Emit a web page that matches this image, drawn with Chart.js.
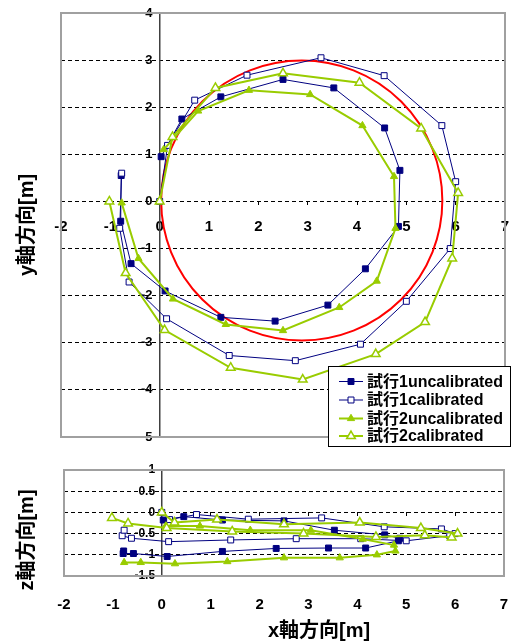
<!DOCTYPE html>
<html><head><meta charset="utf-8">
<script src="https://cdn.jsdelivr.net/npm/chart.js@4.4.1/dist/chart.umd.min.js"></script>
<style>
html,body{margin:0;padding:0;background:#fff;}
#wrap{position:relative;width:512px;height:643px;overflow:hidden;}
#c1{position:absolute;left:0;top:0;}
#c2{position:absolute;left:0;top:450px;}
</style></head><body>
<div id="wrap"><canvas id="c1" width="512" height="450"></canvas><canvas id="c2" width="512" height="193"></canvas></div>
<script>
// ---- data ----
const seriesNames = ['試行1uncalibrated', '試行1calibrated', '試行2uncalibrated', '試行2calibrated'];
const xTicks = [-2, -1, 0, 1, 2, 3, 4, 5, 6, 7];
const yTicks = [-5, -4, -3, -2, -1, 0, 1, 2, 3, 4];
const zTicks = [-1.5, -1, -0.5, 0, 0.5, 1];

const t1uX = [0.03, 0.45, 1.24, 2.50, 3.53, 4.56, 4.87, 4.84, 4.17, 3.41, 2.34, 1.24, 0.11, -0.58, -0.79, -0.78];
const t1uY = [0.95, 1.75, 2.22, 2.59, 2.41, 1.56, 0.66, -0.53, -1.43, -2.20, -2.54, -2.46, -1.90, -1.32, -0.42, 0.55];
const t1uZ = [-0.18, -0.10, -0.18, -0.20, -0.42, -0.53, -0.61, -0.67, -0.84, -0.84, -0.85, -0.92, -1.04, -0.97, -0.97, -0.91];

const t1cX = [0, 0.16, 0.71, 1.77, 3.27, 4.55, 5.72, 6.00, 5.89, 5.00, 4.07, 2.75, 1.41, 0.14, -0.62, -0.81, -0.77];
const t1cY = [0, 1.19, 2.15, 2.68, 3.05, 2.67, 1.61, 0.42, -1.00, -2.12, -3.03, -3.38, -3.27, -2.49, -1.71, -0.57, 0.60];
const t1cZ = [0, -0.17, -0.05, -0.16, -0.13, -0.34, -0.39, -0.50, -0.55, -0.67, -0.62, -0.62, -0.65, -0.69, -0.61, -0.55, -0.42];

const t2uX = [0.08, 0.78, 1.81, 3.05, 4.11, 4.75, 4.78, 4.40, 3.64, 2.50, 1.34, 0.27, -0.43, -0.77];
const t2uY = [1.10, 1.92, 2.36, 2.27, 1.61, 0.53, -0.57, -1.69, -2.25, -2.74, -2.61, -2.07, -1.21, -0.03];
const t2uZ = [-0.32, -0.32, -0.42, -0.42, -0.63, -0.77, -0.91, -1.00, -1.07, -1.07, -1.16, -1.21, -1.18, -1.18];

const t2cX = [0, 0.26, 1.13, 2.50, 4.05, 5.30, 6.05, 5.93, 5.38, 4.38, 2.90, 1.44, 0.10, -0.69, -1.02];
const t2cY = [0, 1.37, 2.41, 2.72, 2.52, 1.55, 0.18, -1.21, -2.56, -3.24, -3.78, -3.53, -2.73, -1.52, 0];
const t2cZ = [0, -0.24, -0.17, -0.28, -0.24, -0.37, -0.50, -0.59, -0.54, -0.58, -0.50, -0.45, -0.37, -0.26, -0.13];

// reference circle (ellipse as drawn): centre x, centre y, radius x, radius y
const refEllipse = [2.88, 0.02, 2.85, 2.97];

// ---- styling ----
const NAVY = '#000080', GREEN = '#99CC00', RED = '#FF0000';
const FONT = '"Liberation Sans", Arial, "Noto Sans CJK JP", sans-serif';
const TITLE_FONT = 'bold 20px "Liberation Sans", Arial, "Noto Sans CJK JP", sans-serif';

function pts(xs, vs) { return xs.map((x, i) => ({x: x, y: vs[i]})); }

const styles = [
  {color: NAVY, width: 1, pointStyle: 'rect', radius: 4.2, fill: NAVY, pbw: 1, order: 4},
  {color: NAVY, width: 1, pointStyle: 'rect', radius: 4.2, fill: '#FFFFFF', pbw: 1, order: 3},
  {color: GREEN, width: 2, pointStyle: 'triangle', radius: 4.2, fill: GREEN, pbw: 1, order: 2},
  {color: GREEN, width: 2, pointStyle: 'triangle', radius: 5, fill: '#FFFFFF', pbw: 1.5, order: 1}
];

function makeDatasets(vals) {
  const xs = [t1uX, t1cX, t2uX, t2cX];
  return vals.map((v, i) => ({
    label: seriesNames[i],
    data: pts(xs[i], v),
    showLine: true,
    tension: 0,
    borderColor: styles[i].color,
    backgroundColor: styles[i].fill,
    borderWidth: styles[i].width,
    pointStyle: styles[i].pointStyle,
    pointRadius: styles[i].radius,
    pointBackgroundColor: styles[i].fill,
    pointBorderColor: styles[i].color,
    pointBorderWidth: styles[i].pbw,
    order: styles[i].order
  }));
}

function drawMarker(ctx, style, x, y) {
  ctx.save();
  ctx.fillStyle = style.fill;
  ctx.strokeStyle = style.color;
  ctx.lineWidth = style.pbw;
  ctx.beginPath();
  if (style.pointStyle === 'rect') {
    const s = Math.SQRT1_2 * style.radius;
    ctx.rect(x - s, y - s, 2 * s, 2 * s);
  } else {
    const r = style.radius;
    ctx.moveTo(x, y - r);
    ctx.lineTo(x + r * Math.sin(2 * Math.PI / 3), y + r * 0.5);
    ctx.lineTo(x - r * Math.sin(2 * Math.PI / 3), y + r * 0.5);
    ctx.closePath();
  }
  ctx.fill();
  ctx.stroke();
  ctx.restore();
}

const framePlugin = {
  id: 'frame',
  beforeDatasetsDraw(chart) {
    const a = chart.chartArea, ctx = chart.ctx;
    ctx.save();
    ctx.strokeStyle = '#A0A0A0';
    ctx.lineWidth = 2;
    ctx.strokeRect(a.left, a.top, a.right - a.left, a.bottom - a.top);
    ctx.restore();
  }
};

const ellipsePlugin = {
  id: 'refEllipse',
  beforeDatasetsDraw(chart) {
    const xs = chart.scales.x, ys = chart.scales.y, ctx = chart.ctx, a = chart.chartArea;
    const cx = xs.getPixelForValue(refEllipse[0]);
    const cy = ys.getPixelForValue(refEllipse[1]);
    const rx = Math.abs(xs.getPixelForValue(refEllipse[0] + refEllipse[2]) - cx);
    const ry = Math.abs(ys.getPixelForValue(refEllipse[1] + refEllipse[3]) - cy);
    ctx.save();
    ctx.beginPath(); ctx.rect(a.left, a.top, a.right - a.left, a.bottom - a.top); ctx.clip();
    ctx.strokeStyle = RED; ctx.lineWidth = 2;
    ctx.beginPath(); ctx.ellipse(cx, cy, rx, ry, 0, 0, 2 * Math.PI); ctx.stroke();
    ctx.restore();
  }
};

function titlePlugin(items) {
  return {
    id: 'titles',
    afterDraw(chart) {
      const ctx = chart.ctx;
      items.forEach(t => {
        ctx.save();
        ctx.font = TITLE_FONT;
        ctx.fillStyle = '#000';
        ctx.textAlign = 'center';
        ctx.textBaseline = 'middle';
        ctx.translate(t.x, t.y);
        ctx.rotate(t.rot || 0);
        ctx.fillText(t.text, 0, 0);
        ctx.restore();
      });
    }
  };
}

const legendPlugin = {
  id: 'customLegend',
  afterDraw(chart) {
    const ctx = chart.ctx;
    const box = {x: 328.5, y: 366.5, w: 182, h: 80};
    ctx.save();
    ctx.fillStyle = '#FFFFFF';
    ctx.fillRect(box.x, box.y, box.w, box.h);
    ctx.strokeStyle = '#000';
    ctx.lineWidth = 1;
    ctx.strokeRect(box.x, box.y, box.w, box.h);
    const rowY = [381.5, 400, 418.5, 436];
    seriesNames.forEach((name, i) => {
      const st = styles[i];
      const y = rowY[i];
      ctx.strokeStyle = st.color;
      ctx.lineWidth = st.width;
      ctx.beginPath(); ctx.moveTo(339, y); ctx.lineTo(363, y); ctx.stroke();
      drawMarker(ctx, st, 351, y);
      ctx.fillStyle = '#000';
      ctx.font = 'bold 16px ' + FONT;
      ctx.textAlign = 'left';
      ctx.textBaseline = 'middle';
      ctx.fillText(name, 367, y + 1);
    });
    ctx.restore();
  }
};

const lab = v => String(v) + '  ';
const flat = s => {
  if (s.isHorizontal()) { s.height = 0; } else { s.width = 0; }
  s.paddingLeft = 0; s.paddingRight = 0; s.paddingTop = 0; s.paddingBottom = 0;
};

Chart.defaults.font.family = FONT;
Chart.defaults.color = '#000';

new Chart(document.getElementById('c1'), {
  type: 'scatter',
  data: {datasets: makeDatasets([t1uY, t1cY, t2uY, t2cY])},
  options: {
    responsive: false, animation: false, events: [], devicePixelRatio: 1,
    layout: {padding: {left: 61, right: 7, top: 13, bottom: 13}},
    plugins: {legend: {display: false}, tooltip: {enabled: false}},
    scales: {
      x: {
        type: 'linear', min: -2, max: 7, position: {y: 0}, afterFit: flat,
        afterBuildTicks: s => { s.ticks = xTicks.map(v => ({value: v})); },
        ticks: {font: {size: 15, weight: 'bold'}, padding: 12, maxRotation: 0, autoSkip: false, callback: v => String(v)},
        grid: {display: true, drawOnChartArea: false, drawTicks: true, tickLength: 4, color: '#000', lineWidth: 1},
        border: {display: false}
      },
      y: {
        type: 'linear', min: -5, max: 4, position: {x: 0}, afterFit: flat,
        afterBuildTicks: s => { s.ticks = yTicks.map(v => ({value: v})); },
        ticks: {font: {size: 13, weight: 'bold'}, padding: 6, autoSkip: false, callback: lab},
        grid: {drawTicks: false, color: '#000', lineWidth: 1},
        border: {display: true, color: '#404040', width: 1.5, dash: [4, 3]}
      }
    }
  },
  plugins: [framePlugin, ellipsePlugin, legendPlugin, titlePlugin([{text: 'y軸方向[m]', x: 27, y: 225, rot: -Math.PI / 2}])]
});

new Chart(document.getElementById('c2'), {
  type: 'scatter',
  data: {datasets: makeDatasets([t1uZ, t1cZ, t2uZ, t2cZ])},
  options: {
    responsive: false, animation: false, events: [], devicePixelRatio: 1,
    layout: {padding: {left: 64, right: 8, top: 20, bottom: 67}},
    plugins: {legend: {display: false}, tooltip: {enabled: false}},
    scales: {
      x: {
        type: 'linear', min: -2, max: 7, position: {y: -1.5}, afterFit: flat,
        afterBuildTicks: s => { s.ticks = xTicks.map(v => ({value: v})); },
        ticks: {font: {size: 15, weight: 'bold'}, padding: 12, maxRotation: 0, autoSkip: false, callback: v => String(v)},
        grid: {display: false},
        border: {display: false}
      },
      x2: {
        type: 'linear', min: -2, max: 7, position: {y: 0}, afterFit: flat,
        afterBuildTicks: s => { s.ticks = xTicks.map(v => ({value: v})); },
        ticks: {display: false},
        grid: {display: true, drawOnChartArea: false, drawTicks: true, tickLength: 4, color: '#000', lineWidth: 1},
        border: {display: false}
      },
      y: {
        type: 'linear', min: -1.5, max: 1, position: {x: 0}, afterFit: flat,
        afterBuildTicks: s => { s.ticks = zTicks.map(v => ({value: v})); },
        ticks: {font: {size: 12, weight: 'bold'}, padding: 6, autoSkip: false, callback: lab},
        grid: {drawTicks: false, color: '#000', lineWidth: 1},
        border: {display: true, color: '#404040', width: 1.5, dash: [4, 3]}
      }
    }
  },
  plugins: [framePlugin, titlePlugin([
    {text: 'z軸方向[m]', x: 27, y: 90, rot: -Math.PI / 2},
    {text: 'x軸方向[m]', x: 319, y: 181, rot: 0}
  ])]
});
</script>
</body></html>
